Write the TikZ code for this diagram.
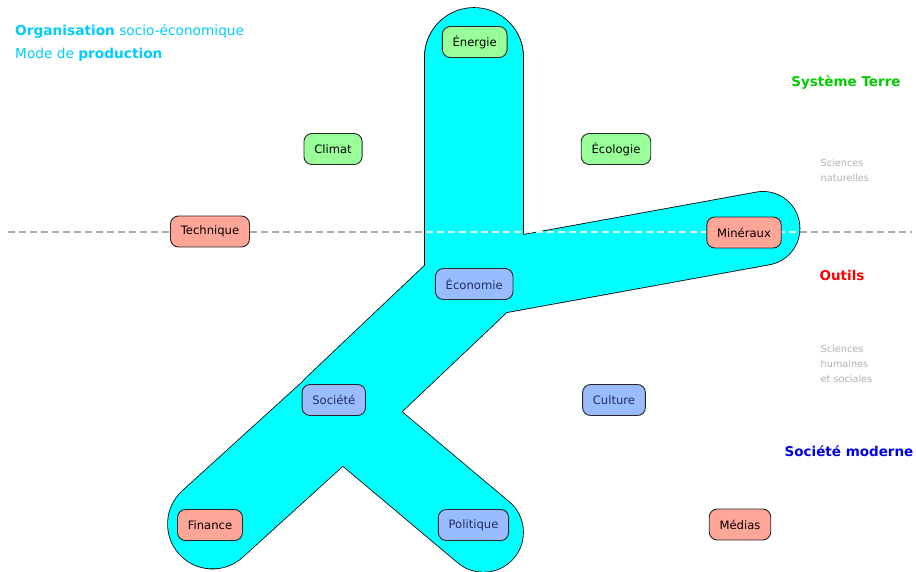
\documentclass[tikz,border=0pt]{standalone}
\usepackage{fontspec}
\setmainfont{DejaVu Sans}
\usepackage{tikz}

\definecolor{bande}{RGB}{0,255,255}
\definecolor{vertclair}{RGB}{153,255,153}
\definecolor{rougeclair}{RGB}{255,166,153}
\definecolor{bleuclair}{RGB}{153,187,255}
\definecolor{bleunuit}{RGB}{30,45,95}
\definecolor{vertterre}{RGB}{0,204,0}
\definecolor{rougeoutil}{RGB}{255,0,0}
\definecolor{bleusociete}{RGB}{0,0,230}
\definecolor{cyantitre}{RGB}{0,204,255}
\definecolor{grisclair}{RGB}{176,176,176}
\definecolor{grisligne}{RGB}{170,170,170}
\definecolor{grisbande}{RGB}{225,240,240}

\tikzset{
  boite/.style={
    rectangle,
    rounded corners=8pt,
    draw=black!85, line width=0.9pt,
    minimum height=31pt,
    inner xsep=10.3pt,
    font=\fontsize{11.6}{13}\selectfont},
  terre/.style={boite, fill=vertclair},
  outil/.style={boite, fill=rougeclair},
  societe/.style={boite, fill=bleuclair, text=bleunuit},
  titre/.style={font=\fontsize{13.5}{16}\selectfont\bfseries},
  discipline/.style={
    font=\fontsize{9.7}{15}\selectfont,
    text=grisclair, align=left, anchor=west, inner sep=0pt},
  entete/.style={font=\fontsize{13.7}{16}\selectfont, text=cyantitre, anchor=west, inner sep=0pt},
  separation/.style={dash pattern=on 7pt off 4pt, line width=1.3pt},
}

\begin{document}
\begin{tikzpicture}[x=1pt, y=-1pt]
     \useasboundingbox (0,0) rectangle (916,571);
     % ligne de separation
     \coordinate (SepGauche) at (8,232);
     \coordinate (SepDroite) at (912,232);
     \draw[separation, grisligne] (SepGauche) -- (SepDroite);
     % mode de production
     \coordinate (NoeudEco) at (474,281);
     \coordinate (NoeudSoc) at (338,410);
     \coordinate (BoutEner) at (474,57);
     \coordinate (BasEner)  at (474,274);
     \coordinate (BoutMin)  at (763,228.4);
     \coordinate (BoutFin)  at (212.5,524);
     \coordinate (BoutPol)  at (483.5,532.3);
     \foreach \col/\plus in {black/1.6, bande/0}
       \foreach \a/\b/\w in {BoutEner/BasEner/98, BoutMin/NoeudEco/73, NoeudEco/NoeudSoc/90,
                             BoutFin/NoeudSoc/89, BoutPol/NoeudSoc/79}
       {
         \pgfmathsetmacro\epaisseur{\w+\plus}
         \draw[\col, line cap=round, line width=\epaisseur pt] (\a) -- (\b);
       }
     \begin{scope}
       \clip (425.5,200) rectangle (799,260);
       \draw[separation, grisbande] (SepGauche) -- (SepDroite);
     \end{scope}
     % elements
     \node[terre]   (Energie)   at (474.7,42)  {Énergie};
     \node[terre]   (Climat)    at (333,149)   {Climat};
     \node[terre]   (Ecologie)  at (616,149)   {Écologie};
     \node[outil]   (Technique) at (210,231.5) {Technique};
     \node[outil]   (Mineraux)  at (744,232.5) {Minéraux};
     \node[societe] (Economie)  at (474.2,284) {Économie};
     \node[societe] (Societe)   at (333.8,400) {Société};
     \node[societe] (Culture)   at (614,400)   {Culture};
     \node[outil]   (Finance)   at (210,525)   {Finance};
     \node[societe] (Politique) at (473.5,525) {Politique};
     \node[outil]   (Medias)    at (740,524.5) {Médias};
     % legendes
     \node[entete] (Organisation) at (15,31.5) {\textbf{Organisation} socio-économique};
     \node[entete] (Mode)         at (15,55)   {Mode de \textbf{production}};
     \node[titre, text=vertterre]   (SystemeTerre)   at (846,83)  {Système Terre};
     \node[titre, text=rougeoutil]  (Outils)         at (842,275) {Outils};
     \node[titre, text=bleusociete] (SocieteModerne) at (849,451) {Société moderne};
     \node[discipline] (SciencesNat) at (820.5,170)   {Sciences\\naturelles};
     \node[discipline] (SciencesHum) at (820.5,363.7) {Sciences\\humaines\\et sociales};
\end{tikzpicture}
\end{document}
